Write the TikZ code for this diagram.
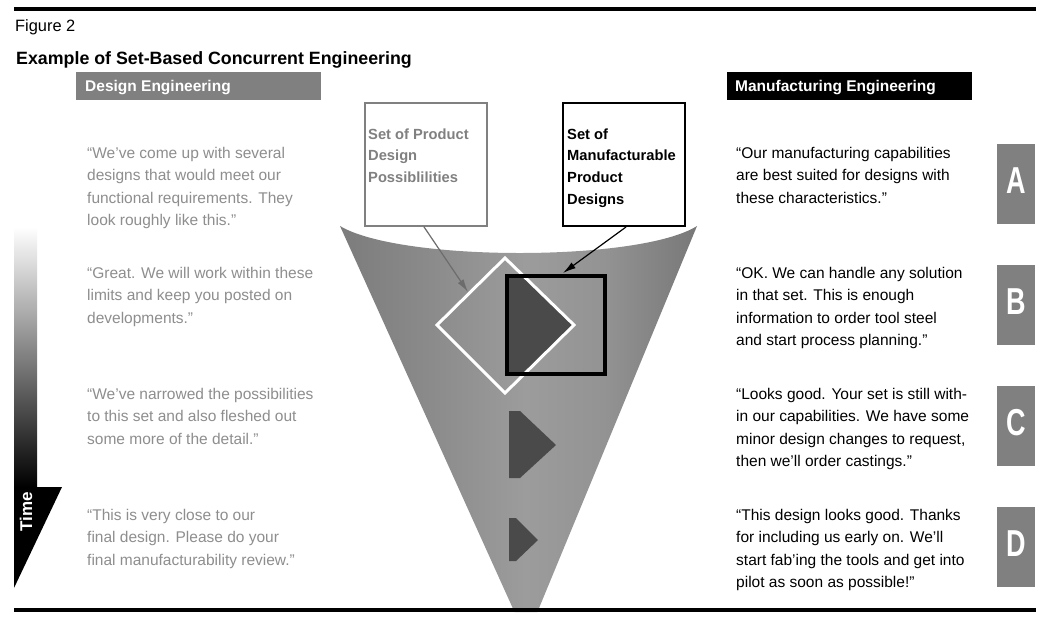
\documentclass[tikz,border=0pt]{standalone}
\usepackage{fontspec}
\usepackage{graphicx}
\setmainfont{Liberation Sans}
\usetikzlibrary{arrows.meta,calc}
\definecolor{barg}{HTML}{808080}
\definecolor{lefttext}{HTML}{8E8E8E}
\definecolor{labelg}{HTML}{808080}
\definecolor{arrowg}{HTML}{6C6C6C}
\definecolor{darkg}{HTML}{4A4A4A}
\definecolor{fl}{HTML}{7C7C7C}
\definecolor{flm}{HTML}{8A8A8A}
\definecolor{fm}{HTML}{9C9C9C}
\definecolor{frm}{HTML}{939393}
\definecolor{fr}{HTML}{787878}
\pgfdeclarehorizontalshading{funnelshade}{100bp}{color(0bp)=(fl); color(25bp)=(fl); color(37bp)=(flm); color(51bp)=(fm); color(62bp)=(frm); color(75bp)=(fr); color(100bp)=(fr)}
\begin{document}
\begin{tikzpicture}[x=1pt,y=-1pt,
  body/.style={anchor=base west, inner sep=0, align=left, font=\fontsize{15.5}{22.6}\selectfont},
  lefttxt/.style={body, text=lefttext},
  righttxt/.style={body, text=black},
  headbar/.style={anchor=north west, inner sep=0, minimum width=245, minimum height=28},
  headtxt/.style={anchor=base west, inner sep=0, text=white, font=\bfseries\fontsize{15.5}{18}\selectfont},
  letterbox/.style={anchor=north west, inner sep=0, fill=barg, minimum width=38, minimum height=80},
  lettertxt/.style={inner sep=0, text=white, font=\bfseries\fontsize{37.5}{40}\selectfont},
  labelbox/.style={anchor=north west, inner sep=0, minimum width=122, minimum height=123},
  labeltxt/.style={anchor=base west, inner sep=0, align=left, font=\bfseries\fontsize{14.7}{21.8}\selectfont},
  rule/.style={line width=4}
]
\useasboundingbox (0,0) rectangle (1041,622);
\fill[white] (0,0) rectangle (1041,622);

% funnel
\shade[shading=funnelshade]
  (340,226) .. controls (400,262) and (640,262) .. (697,226) -- (537.4,612) -- (514.5,612) -- cycle;

% rules
\draw[rule] (14,9) -- (1036,9);
\draw[rule] (14,610) -- (1036,610);

% titles
\node[anchor=base west, inner sep=0, font=\fontsize{16.4}{18}\selectfont] (fig) at (15,31) {Figure 2};
\node[anchor=base west, inner sep=0, font=\bfseries\fontsize{17.8}{20}\selectfont] (title) at (16,64) {Example of Set-Based Concurrent Engineering};

% header bars
\node[headbar, fill=barg] (dbar) at (76,72) {};
\node[headtxt] (dtxt) at (85,91) {Design Engineering};
\node[headbar, fill=black] (mbar) at (727,72) {};
\node[headtxt] (mtxt) at (735,91) {Manufacturing Engineering};

% time bar
\shade[top color=white, bottom color=black] (14,227) rectangle (37,487);
\fill[black] (14,487) -- (62,487) -- (14,588) -- cycle;
\node[rotate=90, inner sep=0, text=white, font=\bfseries\fontsize{17}{17}\selectfont] (time) at (26,512) {Time};

% left texts (anchor = baseline of last line)
\node[lefttxt] (l1) at (87,225.8) {“We’ve come up with several\\designs that would meet our\\functional requirements. They\\look roughly like this.”};
\node[lefttxt] (l2) at (87,323.2) {“Great. We will work within these\\limits and keep you posted on\\developments.”};
\node[lefttxt] (l3) at (87,444.2) {“We’ve narrowed the possibilities\\to this set and also fleshed out\\some more of the detail.”};
\node[lefttxt] (l4) at (87,565.2) {“This is very close to our\\final design. Please do your\\final manufacturability review.”};

% right texts
\node[righttxt] (r1) at (736,203.2) {“Our manufacturing capabilities\\are best suited for designs with\\these characteristics.”};
\node[righttxt] (r2) at (736,345.8) {“OK. We can handle any solution\\in that set. This is enough\\information to order tool steel\\and start process planning.”};
\node[righttxt] (r3) at (736,466.8) {“Looks good. Your set is still with-\\in our capabilities. We have some\\minor design changes to request,\\then we’ll order castings.”};
\node[righttxt] (r4) at (736,587.8) {“This design looks good. Thanks\\for including us early on. We’ll\\start fab’ing the tools and get into\\pilot as soon as possible!”};

% letter boxes
\node[letterbox] (bA) at (997,144) {};
\node[letterbox] (bB) at (997,265) {};
\node[letterbox] (bC) at (997,386) {};
\node[letterbox] (bD) at (997,507) {};
\node[lettertxt] (tA) at ($(bA.center)+(0,-4)$) {\scalebox{0.72}[1]{A}};
\node[lettertxt] (tB) at ($(bB.center)+(0,-4)$) {\scalebox{0.72}[1]{B}};
\node[lettertxt] (tC) at ($(bC.center)+(0,-4)$) {\scalebox{0.72}[1]{C}};
\node[lettertxt] (tD) at ($(bD.center)+(0,-4)$) {\scalebox{0.72}[1]{D}};

% diamond and square
\coordinate (dT) at (505,258);
\coordinate (dR) at (574,325);
\coordinate (dB) at (505,393);
\coordinate (dL) at (437,325);
\begin{scope}
  \clip (dT) -- (dR) -- (dB) -- (dL) -- cycle;
  \fill[darkg] (507,276) rectangle (605,374);
\end{scope}
\draw[white, line width=3] (dT) -- (dR) -- (dB) -- (dL) -- cycle;
\node[draw=black, line width=3.5, minimum width=98, minimum height=98, inner sep=0, outer sep=0] (sq) at (556,325) {};

% shrinking sets
\fill[darkg] (509,411) -- (520,411) -- (556,445) -- (520,478) -- (509,478) -- cycle;
\fill[darkg] (509,518) -- (516,518) -- (538,540) -- (516,561) -- (509,561) -- cycle;

% label boxes
\node[labelbox, draw=labelg, line width=1.5] (pbox) at (364,102) {};
\node[labeltxt, text=labelg] (ptxt) at (368,182.6) {Set of Product\\Design\\Possiblilities};
\node[labelbox, draw=black, line width=2] (mbox) at (562,102) {};
\node[labeltxt, text=black] (mtxt2) at (567,204.4) {Set of\\Manufacturable\\Product\\Designs};

% arrows
\coordinate (ptip) at (468,292);
\coordinate (mtip) at (563,273);
\draw[arrowg, line width=1.2, -{Latex[length=13pt,width=7pt]}] ($(pbox.south)+(-2,0)$) -- (ptip);
\draw[black, line width=1.2, -{Latex[length=13pt,width=7pt]}] ($(mbox.south)+(2,0)$) -- (mtip);
\end{tikzpicture}
\end{document}
